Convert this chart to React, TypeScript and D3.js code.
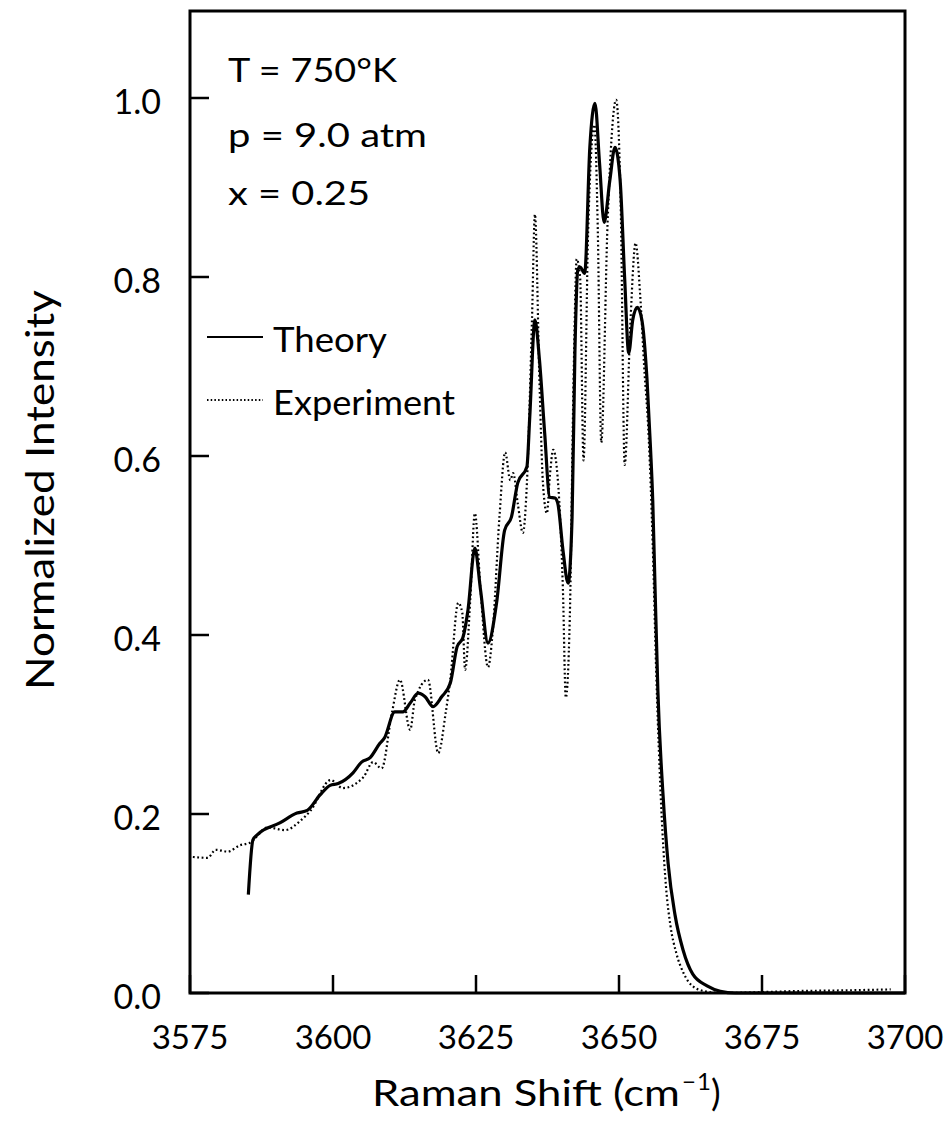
import React from "react";
import * as d3 from "d3";

const theoryX = [3585.2, 3586.0, 3586.8, 3590.7, 3593.7, 3595.5, 3597.7, 3599.5, 3600.9, 3603.5, 3605.0, 3606.5, 3608.2, 3609.0, 3610.8, 3612.2, 3613.5, 3614.9, 3616.1, 3617.5, 3619.0, 3620.5, 3621.7, 3622.7, 3623.6, 3624.8, 3625.8, 3627.1, 3628.6, 3630.0, 3631.2, 3632.3, 3633.9, 3634.4, 3635.3, 3636.1, 3637.0, 3637.9, 3638.8, 3639.3, 3640.2, 3641.1, 3641.8, 3642.3, 3642.8, 3643.2, 3644.0, 3644.9, 3645.8, 3646.6, 3647.4, 3648.4, 3649.3, 3650.2, 3651.0, 3651.7, 3652.4, 3653.2, 3654.0, 3654.9, 3655.5, 3655.9, 3656.3, 3656.8, 3657.7, 3658.6, 3659.8, 3661.2, 3662.9, 3665.4, 3667.7, 3670.3, 3685.0, 3700.0];
const theoryY = [0.11, 0.171, 0.177, 0.19, 0.201, 0.204, 0.221, 0.232, 0.234, 0.246, 0.258, 0.263, 0.279, 0.285, 0.314, 0.314, 0.324, 0.335, 0.331, 0.32, 0.331, 0.346, 0.387, 0.397, 0.428, 0.497, 0.45, 0.391, 0.436, 0.517, 0.532, 0.57, 0.588, 0.644, 0.752, 0.707, 0.626, 0.554, 0.553, 0.547, 0.495, 0.458, 0.532, 0.718, 0.808, 0.811, 0.804, 0.945, 0.994, 0.927, 0.861, 0.908, 0.945, 0.908, 0.797, 0.715, 0.752, 0.766, 0.752, 0.685, 0.61, 0.55, 0.453, 0.337, 0.221, 0.144, 0.087, 0.048, 0.021, 0.008, 0.002, 0.0, 0.0, 0.0];

const exptX = [3575.5, 3578.1, 3579.5, 3581.6, 3583.7, 3585.5, 3588.6, 3591.6, 3594.4, 3596.1, 3599.6, 3601.7, 3605.3, 3607.0, 3608.5, 3610.3, 3611.7, 3613.5, 3614.3, 3616.6, 3618.4, 3619.7, 3620.5, 3621.9, 3622.6, 3623.1, 3624.0, 3624.8, 3625.8, 3627.1, 3627.9, 3629.1, 3630.1, 3631.0, 3631.5, 3632.3, 3633.2, 3633.9, 3634.8, 3635.3, 3636.1, 3636.7, 3637.4, 3637.9, 3638.5, 3639.1, 3639.7, 3640.2, 3640.7, 3641.4, 3642.1, 3642.6, 3643.2, 3643.8, 3644.6, 3645.7, 3646.3, 3646.9, 3648.0, 3649.5, 3650.3, 3651.0, 3652.0, 3652.9, 3653.7, 3654.4, 3655.2, 3655.9, 3656.5, 3657.1, 3657.6, 3658.2, 3659.0, 3660.0, 3661.3, 3662.8, 3665.0, 3668.0, 3675.0, 3680.0, 3690.0, 3697.5];
const exptY = [0.152, 0.151, 0.16, 0.158, 0.165, 0.168, 0.185, 0.182, 0.193, 0.204, 0.238, 0.229, 0.241, 0.258, 0.251, 0.313, 0.35, 0.294, 0.327, 0.35, 0.268, 0.313, 0.35, 0.436, 0.425, 0.361, 0.44, 0.536, 0.45, 0.364, 0.402, 0.532, 0.604, 0.573, 0.581, 0.547, 0.514, 0.57, 0.755, 0.87, 0.682, 0.57, 0.536, 0.577, 0.607, 0.588, 0.532, 0.45, 0.33, 0.42, 0.7, 0.82, 0.8, 0.595, 0.85, 0.97, 0.85, 0.615, 0.86, 0.998, 0.88, 0.59, 0.75, 0.838, 0.78, 0.7, 0.62, 0.5, 0.36, 0.25, 0.18, 0.12, 0.075, 0.045, 0.022, 0.008, 0.002, 0.0, 0.001, 0.002, 0.003, 0.004];

const xTicks = [3575, 3600, 3625, 3650, 3675, 3700];
const yTicks = [0.0, 0.2, 0.4, 0.6, 0.8, 1.0];
const annotations = ["T = 750°K", "p = 9.0 atm", "x = 0.25"];
const legendLabels = ["Theory", "Experiment"];

const FONT = "Lato, 'Open Sans', sans-serif";

export default function App() {
  const left = 190, right = 905, top = 11, bottom = 993;
  const x = d3.scaleLinear().domain([3575, 3700]).range([left, right]);
  const y = d3.scaleLinear().domain([0, (bottom - top) / 895]).range([bottom, top]);

  const line = d3
    .line<[number, number]>()
    .x((d) => x(d[0]))
    .y((d) => y(d[1]))
    .curve(d3.curveMonotoneX);

  const theory = theoryX.map((v, i) => [v, theoryY[i]] as [number, number]);
  const expt = exptX.map((v, i) => [v, exptY[i]] as [number, number]);

  const annBaselines = [82, 147, 205];
  const annWidths = [169, 199, 142];

  return (
    <svg
      width={952}
      height={1125}
      style={{ position: "absolute", left: 0, top: 0, background: "#fff" }}
      fontFamily={FONT}
    >
      <rect x={0} y={0} width={952} height={1125} fill="#fff" />
      {/* data */}
      <path d={line(expt) || ""} fill="none" stroke="#000" strokeWidth={2.2} strokeDasharray="1.8 2.6" />
      <path d={line(theory) || ""} fill="none" stroke="#000" strokeWidth={3.2} strokeLinejoin="round" />

      {/* frame */}
      <rect x={left} y={top} width={right - left} height={bottom - top} fill="none" stroke="#000" strokeWidth={3} />

      {/* x ticks */}
      {xTicks.map((t) => (
        <g key={"xt" + t}>
          <line x1={x(t)} x2={x(t)} y1={bottom} y2={bottom - 18} stroke="#000" strokeWidth={2.5} />
          <text x={x(t)} y={1049} textAnchor="middle" fontSize={33} fill="#000">
            {t}
          </text>
        </g>
      ))}
      {/* y ticks */}
      {yTicks.map((t) => (
        <g key={"yt" + t}>
          <line x1={left} x2={left + 19} y1={y(t)} y2={y(t)} stroke="#000" strokeWidth={2.5} />
          <text x={161} y={y(t) + 16} textAnchor="end" fontSize={34} fill="#000">
            {t.toFixed(1)}
          </text>
        </g>
      ))}

      {/* annotations */}
      {annotations.map((a, i) => (
        <text
          key={a}
          x={228}
          y={annBaselines[i]}
          fontSize={32}
          textLength={annWidths[i]}
          lengthAdjust="spacingAndGlyphs"
          fill="#000"
        >
          {a}
        </text>
      ))}

      {/* legend */}
      <line x1={207} x2={263} y1={337} y2={337} stroke="#000" strokeWidth={2.2} />
      <text x={273} y={352} fontSize={35} textLength={114} lengthAdjust="spacingAndGlyphs" fill="#000">
        {legendLabels[0]}
      </text>
      <line x1={207} x2={263} y1={400} y2={400} stroke="#000" strokeWidth={1.8} strokeDasharray="1.5 2.2" />
      <text x={273} y={415} fontSize={35} textLength={182} lengthAdjust="spacingAndGlyphs" fill="#000">
        {legendLabels[1]}
      </text>

      {/* x title */}
      <text x={372} y={1106} fontSize={36} textLength={308} lengthAdjust="spacingAndGlyphs" fill="#000">
        Raman Shift (cm
      </text>
      <text x={682} y={1090} fontSize={24} fill="#000">
        −
      </text>
      <text x={697} y={1090} fontSize={24} fill="#000">
        1
      </text>
      <text x={711} y={1106} fontSize={36} fill="#000">
        )
      </text>

      {/* y title */}
      <text
        transform="translate(54,490) rotate(-90)"
        textAnchor="middle"
        fontSize={38}
        textLength={400}
        lengthAdjust="spacingAndGlyphs"
        fill="#000"
      >
        Normalized Intensity
      </text>
    </svg>
  );
}
